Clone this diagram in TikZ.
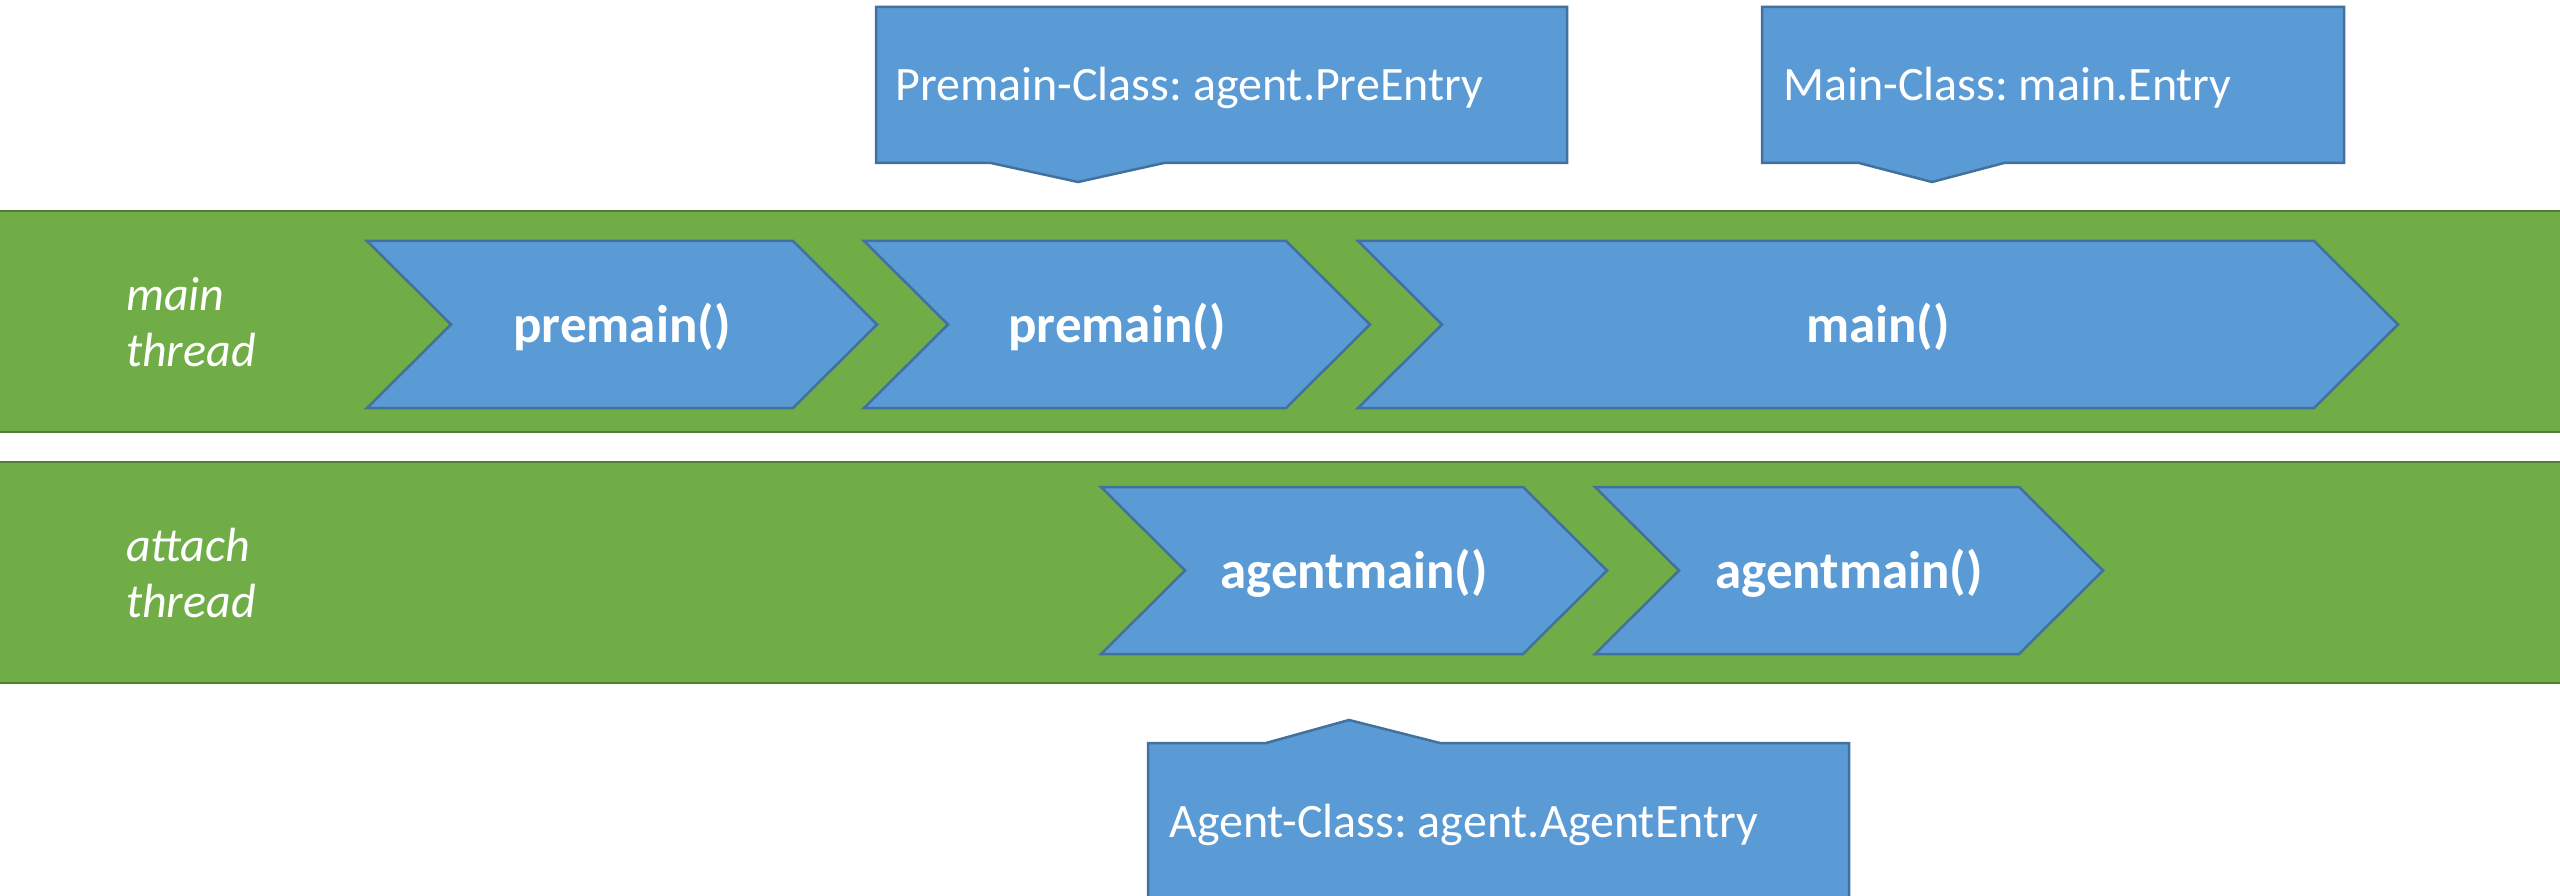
\documentclass[tikz,border=0pt]{standalone}
\usepackage{fontspec}
\setmainfont{Carlito}
\frenchspacing
\definecolor{laneGreen}{HTML}{70AD47}
\definecolor{laneEdge}{HTML}{507E32}
\definecolor{boxBlue}{HTML}{5B9BD5}
\definecolor{boxEdge}{HTML}{41719C}
\tikzset{
  lane/.style={fill=laneGreen, draw=laneEdge, line width=2.5pt},
  chevbox/.style={fill=boxBlue, draw=boxEdge, line width=2.5pt, line join=miter},
  callbox/.style={fill=boxBlue, draw=boxEdge, line width=2.5pt, line join=miter},
  steplabel/.style={text=white, inner sep=0pt, anchor=base, font=\fontsize{53}{63}\selectfont\bfseries},
  calltext/.style={text=white, inner sep=0pt, anchor=base west, font=\fontsize{48}{58}\selectfont},
  lanetitle/.style={text=white, inner sep=0pt, anchor=west, align=left, font=\fontsize{48}{56}\selectfont\itshape},
}
% chevron step: #1 name, #2 left x, #3 tip x, #4 top y, #5 label
\newcommand{\stepchev}[5]{%
  \draw[chevbox] (#2,#4) -- (#3-84,#4) -- (#3,#4+83.5) -- (#3-84,#4+167)
    -- (#2,#4+167) -- (#2+84,#4+83.5) -- cycle;
  \node[steplabel] (#1) at ({(#2+#3)/2},#4+101) {#5};
}
\begin{document}
\begin{tikzpicture}[x=1pt,y=-1pt]
\useasboundingbox (0,0) rectangle (2560,896);
\clip (0,0) rectangle (2560,896);
\fill[white] (0,0) rectangle (2560,896);

% thread lanes
\draw[lane] (-10,211) rectangle (2570,432);
\draw[lane] (-10,462) rectangle (2570,683);
\node[lanetitle] (mainlane) at (126,322) {main\\thread};
\node[lanetitle] (attachlane) at (126,573) {attach\\thread};

% main thread steps
\stepchev{pre1}{367}{877}{241}{premain()}
\stepchev{pre2}{864}{1370}{241}{premain()}
\stepchev{mainstep}{1358}{2398}{241}{main()}

% attach thread steps
\stepchev{agent1}{1101}{1607}{487}{agentmain()}
\stepchev{agent2}{1595}{2103}{487}{agentmain()}

% manifest callouts
\draw[callbox] (876,7) -- (1567,7) -- (1567,163) -- (1164,163) -- (1078,182)
  -- (991,163) -- (876,163) -- cycle;
\node[calltext] (premaincls) at (895,101) {Premain-Class: agent.PreEntry};

\draw[callbox] (1762,7) -- (2344,7) -- (2344,163) -- (2004,163) -- (1932,182)
  -- (1859,163) -- (1762,163) -- cycle;
\node[calltext] (maincls) at (1783,101) {Main-Class: main.Entry};

\draw[callbox] (1148,743) -- (1266,743) -- (1349,720) -- (1440,743) -- (1849,743)
  -- (1849,905) -- (1148,905) -- cycle;
\node[calltext] (agentcls) at (1169,837) {Agent-Class: agent.AgentEntry};
\end{tikzpicture}
\end{document}
